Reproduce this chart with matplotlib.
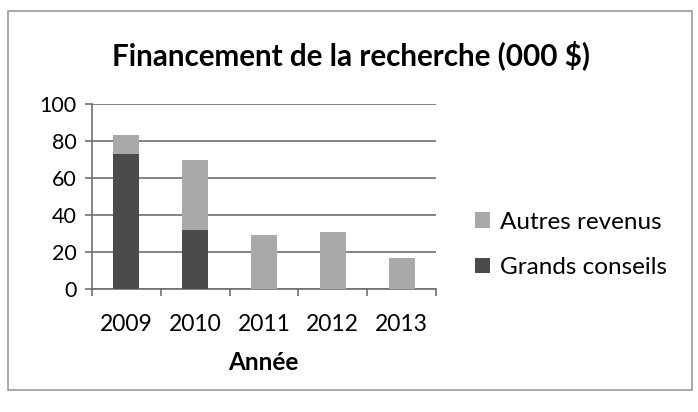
import matplotlib.pyplot as plt
from matplotlib.patches import Rectangle
import numpy as np

annees = ['2009', '2010', '2011', '2012', '2013']
grands_conseils = [73, 32, 0, 0, 0]
autres_revenus = [10, 38, 29, 31, 17]

dark = '#4b4b4b'
light = '#a9a9a9'

plt.rcParams['font.family'] = ['Lato', 'DejaVu Sans']

W, H = 698, 412
fig = plt.figure(figsize=(W / 100, H / 100), dpi=100)

# outer frame of the chart
fig.patches.append(Rectangle((8 / W, 1 - 390 / H), (692 - 8) / W, (390 - 11) / H,
                             transform=fig.transFigure, fill=False,
                             edgecolor='#9a9a9a', linewidth=1.2))

ax = fig.add_axes([92 / W, 1 - 289 / H, (436 - 92) / W, (289 - 104) / H])

x = np.arange(len(annees))
ax.bar(x, grands_conseils, width=0.38, color=dark, label='Grands conseils', zorder=3)
ax.bar(x, autres_revenus, width=0.38, bottom=grands_conseils, color=light,
       label='Autres revenus', zorder=3)

ax.set_xlim(-0.5, len(annees) - 0.5)
ax.set_ylim(0, 100)
ax.set_yticks(range(0, 101, 20))
ax.yaxis.grid(True, color='#707070', linewidth=1.2, zorder=0)

ax.set_xticks(np.arange(-0.5, len(annees), 1))
ax.set_xticklabels([])
ax.set_xticks(x, minor=True)
ax.set_xticklabels(annees, minor=True, fontsize=16.5)
ax.tick_params(axis='x', which='major', length=5, color='#707070', width=1.2)
ax.tick_params(axis='x', which='minor', length=0, pad=18)
ax.tick_params(axis='y', length=5, color='#707070', width=1.2, labelsize=15.5, pad=6)

for s in ['top', 'right']:
    ax.spines[s].set_visible(False)
for s in ['left', 'bottom']:
    ax.spines[s].set_color('#707070')
    ax.spines[s].set_linewidth(1.2)

fig.text(263 / W, 1 - 363 / H, 'Année', ha='center', va='center',
         fontsize=17.5, fontweight='bold')
fig.text(351 / W, 1 - 55 / H, 'Financement de la recherche (000 $)',
         ha='center', va='center', fontsize=21.3, fontweight='bold')

handles, labels = ax.get_legend_handles_labels()
fig.legend(handles[::-1], labels[::-1], loc='center left',
           bbox_to_anchor=(453 / W, 1 - 245 / H), frameon=False, fontsize=17.5,
           handlelength=0.62, handleheight=0.62, handletextpad=0.4,
           labelspacing=1.0)

fig.savefig('out.png', dpi=100)
